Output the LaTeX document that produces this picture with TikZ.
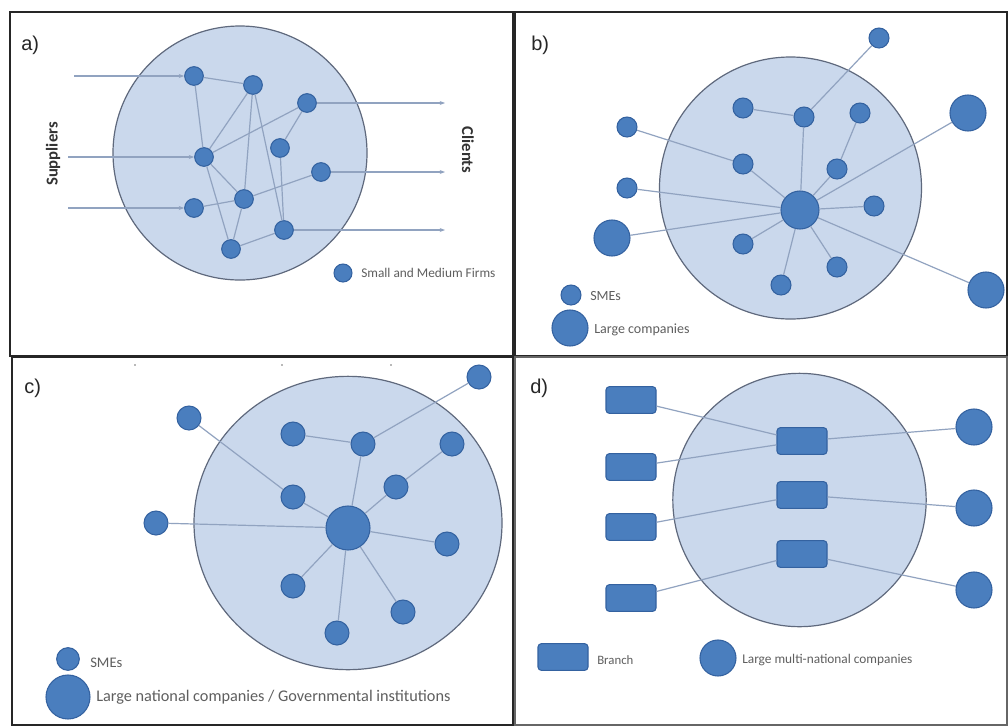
\documentclass[tikz,border=0pt]{standalone}
\usepackage{fontspec}
\setmainfont{Liberation Sans}
\newfontfamily\legendfont{Carlito}
\usetikzlibrary{arrows.meta}
\definecolor{nodefill}{RGB}{74,126,190}
\definecolor{nodeedge}{RGB}{52,98,160}
\definecolor{areafill}{RGB}{202,216,236}
\definecolor{areaedge}{RGB}{95,105,125}
\definecolor{linkcol}{RGB}{145,163,192}
\definecolor{legtext}{RGB}{95,95,95}
\begin{document}
\begin{tikzpicture}[x=0.75pt,y=-0.75pt,
  panel/.style={draw=black!85, line width=1.1pt},
  area/.style={fill=areafill, draw=areaedge, line width=0.9pt},
  firm/.style={circle, fill=nodefill, draw=nodeedge, line width=0.8pt, inner sep=0pt, minimum size=#1},
  firm/.default=14pt,
  branchbox/.style={rectangle, rounded corners=2.5pt, fill=nodefill, draw=nodeedge, line width=0.8pt, inner sep=0pt, minimum width=37.5pt, minimum height=20pt},
  link/.style={draw=linkcol, line width=0.9pt},
  flow/.style={link, -{Stealth[length=4pt,width=3pt]}},
  plabel/.style={font=\fontsize{15}{15}\selectfont, text=black!85, anchor=west, inner sep=0pt},
  legend/.style={font=\legendfont\fontsize{10}{11}\selectfont, text=legtext, anchor=west, inner sep=0pt},
  sidelabel/.style={font=\legendfont\bfseries\fontsize{12.5}{13}\selectfont, text=black!80, inner sep=0pt}
]
\useasboundingbox[fill=white] (0,0) rectangle (1008,726);

% ---------- panel frames ----------
\draw[panel] (10,12) rectangle (513,356);
\draw[panel] (515,12) rectangle (1007,356);
\draw[panel] (12,357) rectangle (513,725);
\draw[panel, draw=black!60, line width=0.8pt] (515,357) rectangle (1007,725);

% ================= panel a =================
\node[plabel] (la) at (21,45) {a)};
\draw[area] (240,153) circle[radius=95.25pt];
\node[firm] (a1) at (194,76) {};
\node[firm] (a2) at (253,85) {};
\node[firm] (a3) at (307,103) {};
\node[firm] (a4) at (204,157) {};
\node[firm] (a5) at (280,148) {};
\node[firm] (a6) at (321,172) {};
\node[firm] (a7) at (244,199) {};
\node[firm] (a8) at (194,208) {};
\node[firm] (a9) at (231,249) {};
\node[firm] (a10) at (284,230) {};
\draw[link] (a1) -- (a2);
\draw[link] (a1) -- (a4);
\draw[link] (a4) -- (a9);
\draw[link] (a2) -- (a4);
\draw[link] (a2) -- (a7);
\draw[link] (a2) -- (a10);
\draw[link] (a3) -- (a4);
\draw[link] (a3) -- (a5);
\draw[link] (a4) -- (a7);
\draw[link] (a5) -- (a10);
\draw[link] (a6) -- (a7);
\draw[link] (a8) -- (a7);
\draw[link] (a7) -- (a9);
\draw[link] (a9) -- (a10);
\coordinate (ain1) at (74,76);
\coordinate (ain2) at (68,157);
\coordinate (ain3) at (68,208);
\coordinate (aout1) at (445,103);
\coordinate (aout2) at (445,172);
\coordinate (aout3) at (445,230);
\draw[flow] (ain1) -- (a1);
\draw[flow] (ain2) -- (a4);
\draw[flow] (ain3) -- (a8);
\draw[flow] (a3) -- (aout1);
\draw[flow] (a6) -- (aout2);
\draw[flow] (a10) -- (aout3);
\node[sidelabel, rotate=90] (sup) at (53,154) {Suppliers};
\node[sidelabel, rotate=-90] (cli) at (468,150) {Clients};
\node[firm=13.5pt] (alegsme) at (343,273) {};
\node[legend] (alegtxt) at (361,273) {Small and Medium Firms};

% ================= panel b =================
\node[plabel] (lb) at (531,45) {b)};
\draw[area] (790.5,188) circle[radius=98.25pt];
\node[firm=28.5pt] (bh) at (800,210) {};
\node[firm=15pt] (b1) at (743,108) {};
\node[firm=15pt] (b2) at (804,117) {};
\node[firm=15pt] (b3) at (860,113) {};
\node[firm=15pt] (b4) at (743,164) {};
\node[firm=15pt] (b5) at (837,169) {};
\node[firm=15pt] (b6) at (874,206) {};
\node[firm=15pt] (b7) at (743,244) {};
\node[firm=15pt] (b8) at (837,267) {};
\node[firm=15pt] (b9) at (781,285) {};
\node[firm=15pt] (bo1) at (879,38) {};
\node[firm=15pt] (bo2) at (627,127) {};
\node[firm=15pt] (bo3) at (627,188) {};
\node[firm=27pt] (bL1) at (968,113) {};
\node[firm=27pt] (bL2) at (612,238) {};
\node[firm=27pt] (bL3) at (986,290) {};
\draw[link] (b1) -- (b2);
\draw[link] (b2) -- (bo1);
\draw[link] (b2) -- (bh);
\draw[link] (b3) -- (b5);
\draw[link] (b5) -- (bh);
\draw[link] (bo2) -- (b4);
\draw[link] (b4) -- (bh);
\draw[link] (bo3) -- (bh);
\draw[link] (bL2) -- (bh);
\draw[link] (b7) -- (bh);
\draw[link] (b9) -- (bh);
\draw[link] (b8) -- (bh);
\draw[link] (b6) -- (bh);
\draw[link] (bL3) -- (bh);
\draw[link] (bL1) -- (bh);
\node[firm=15pt] (blegsme) at (571,295) {};
\node[legend, font=\legendfont\fontsize{10.5}{11}\selectfont] (blegt1) at (590,296) {SMEs};
\node[firm=27pt] (bleglarge) at (570,328) {};
\node[legend, font=\legendfont\fontsize{10.5}{11}\selectfont] (blegt2) at (594,330) {Large companies};

% ================= panel c =================
\node[plabel] (lc) at (24,388) {c)};
\fill[black!55] (135,365) circle[radius=0.7pt];
\fill[black!55] (282,365) circle[radius=0.7pt];
\fill[black!55] (391,365) circle[radius=0.7pt];
\draw[area] (348,523) ellipse[x radius=115.5pt, y radius=110pt];
\node[firm=33pt] (ch) at (348,528) {};
\node[firm=18pt] (c1) at (293,434) {};
\node[firm=18pt] (c2) at (363,444) {};
\node[firm=18pt] (c3) at (452,444) {};
\node[firm=18pt] (c4) at (293,497) {};
\node[firm=18pt] (c5) at (396,487) {};
\node[firm=18pt] (c6) at (447,544) {};
\node[firm=18pt] (c7) at (293,586) {};
\node[firm=18pt] (c8) at (403,612) {};
\node[firm=18pt] (c9) at (337,633) {};
\node[firm=18pt] (co1) at (189,418) {};
\node[firm=18pt] (co2) at (156,523) {};
\node[firm=18pt] (co3) at (479,377) {};
\draw[link] (c1) -- (c2);
\draw[link] (c2) -- (co3);
\draw[link] (c2) -- (ch);
\draw[link] (c3) -- (c5);
\draw[link] (c5) -- (ch);
\draw[link] (co1) -- (c4);
\draw[link] (c4) -- (ch);
\draw[link] (co2) -- (ch);
\draw[link] (c6) -- (ch);
\draw[link] (c7) -- (ch);
\draw[link] (c9) -- (ch);
\draw[link] (c8) -- (ch);
\node[firm=17pt] (clegsme) at (68,659) {};
\node[legend, font=\legendfont\fontsize{11}{12}\selectfont] (clegt1) at (90,663) {SMEs};
\node[firm=33pt] (cleglarge) at (68,697) {};
\node[legend, font=\legendfont\fontsize{12.2}{13}\selectfont] (clegt2) at (96,697) {Large national companies / Governmental institutions};

% ================= panel d =================
\node[plabel] (ld) at (530,388) {d)};
\draw[area] (799.5,500) circle[radius=95pt];
\node[branchbox] (dl1) at (631,400) {};
\node[branchbox] (dl2) at (631,467) {};
\node[branchbox] (dl3) at (631,527) {};
\node[branchbox] (dl4) at (631,598) {};
\node[branchbox] (dc1) at (802,441) {};
\node[branchbox] (dc2) at (802,495) {};
\node[branchbox] (dc3) at (802,554) {};
\node[firm=27pt] (dr1) at (974,427) {};
\node[firm=27pt] (dr2) at (974,508) {};
\node[firm=27pt] (dr3) at (974,590) {};
\draw[link] (dl1) -- (dc1);
\draw[link] (dl2) -- (dc1);
\draw[link] (dl3) -- (dc2);
\draw[link] (dl4) -- (dc3);
\draw[link] (dc1) -- (dr1);
\draw[link] (dc2) -- (dr2);
\draw[link] (dc3) -- (dr3);
\node[branchbox] (dlegb) at (563,657) {};
\node[legend, font=\legendfont\fontsize{9.6}{11}\selectfont] (dlegt1) at (597,660) {Branch};
\node[firm=27pt] (dlegc) at (718,658) {};
\node[legend] (dlegt2) at (742,660) {Large multi-national companies};

\end{tikzpicture}
\end{document}
